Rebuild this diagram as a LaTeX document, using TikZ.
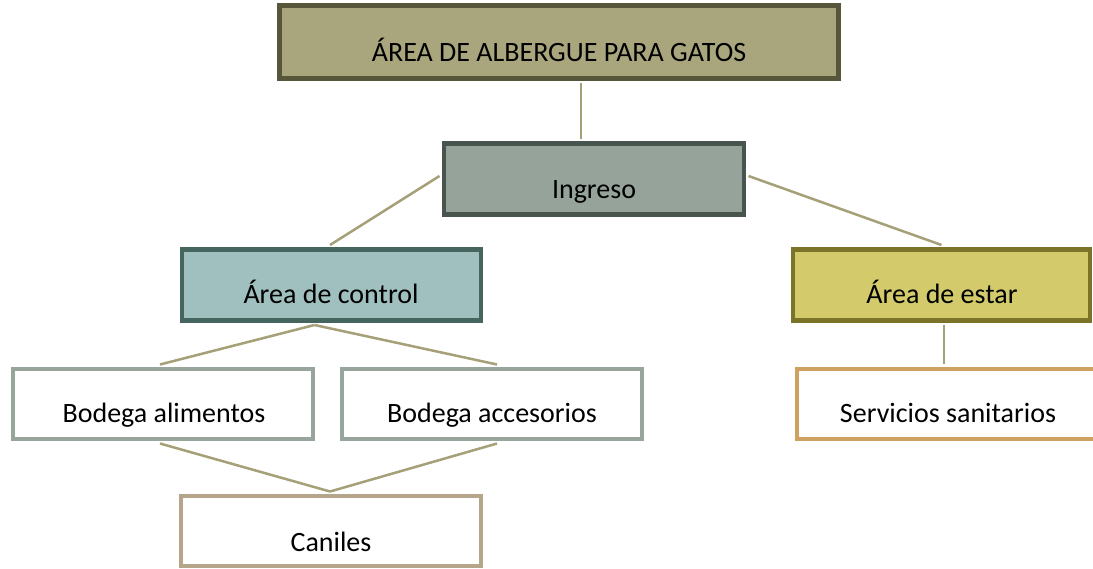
\documentclass[tikz,border=0pt]{standalone}
\usepackage{fontspec}
\setmainfont{Carlito}
\definecolor{topfill}{HTML}{A9A67E}
\definecolor{topdraw}{HTML}{58563A}
\definecolor{ingfill}{HTML}{95A39A}
\definecolor{ingdraw}{HTML}{48554F}
\definecolor{ctlfill}{HTML}{9FC0BE}
\definecolor{ctldraw}{HTML}{46655F}
\definecolor{estfill}{HTML}{D3CB6B}
\definecolor{estdraw}{HTML}{7A7328}
\definecolor{boddraw}{HTML}{98A59C}
\definecolor{serdraw}{HTML}{CFA15E}
\definecolor{candraw}{HTML}{B5A58A}
\definecolor{linkcol}{HTML}{A5A077}
\begin{document}
\begin{tikzpicture}[x=1pt,y=-1pt,
  box/.style={rectangle,line width=4.5pt,inner sep=0pt,minimum height=71pt,minimum width=300pt},
  txt/.style={anchor=base,inner sep=0pt,font=\fontsize{28}{34}\selectfont},
  link/.style={draw=linkcol,line width=2.5pt}]
\clip (0,0) rectangle (1093,569);
\fill[white] (0,0) rectangle (1093,569);
% boxes
\node[box,draw=topdraw,fill=topfill,minimum width=559pt,minimum height=73pt] (top) at (559,42) {};
\node[box,draw=ingdraw,fill=ingfill] (ing) at (594,179) {};
\node[box,draw=ctldraw,fill=ctlfill,minimum width=299pt] (ctl) at (331.5,285) {};
\node[box,draw=estdraw,fill=estfill,minimum width=297pt] (est) at (941.5,285) {};
\node[box,draw=boddraw,fill=white,minimum height=70pt] (boda) at (163,404) {};
\node[box,draw=boddraw,fill=white,minimum height=70pt] (bodb) at (492,404) {};
\node[box,draw=serdraw,fill=white,minimum width=302pt,minimum height=70pt] (ser) at (948,404) {};
\node[box,draw=candraw,fill=white,minimum height=70pt] (can) at (331,531) {};
% texts
\node[txt] (ttop) at (559,62) {ÁREA DE ALBERGUE PARA GATOS};
\node[txt] (ting) at (594,199) {Ingreso};
\node[txt] (tctl) at (331,304) {Área de control};
\node[txt] (test) at (942,304) {Área de estar};
\node[txt] (tboda) at (164,423) {Bodega alimentos};
\node[txt] (tbodb) at (492,423) {Bodega accesorios};
\node[txt] (tser) at (948,423) {Servicios sanitarios};
\node[txt] (tcan) at (331,551) {Caniles};
% connectors
\draw[link] ([xshift=22pt,yshift=-2.25pt]top.south) -- ([xshift=-13pt,yshift=2.25pt]ing.north);
\draw[link] ([xshift=-2.25pt,yshift=3pt]ing.west) -- ([xshift=-1.5pt,yshift=2.25pt]ctl.north);
\draw[link] ([xshift=2.25pt,yshift=3pt]ing.east) -- ([yshift=2.25pt]est.north);
\draw[link] ([xshift=-17pt,yshift=-2.25pt]ctl.south) -- ([xshift=-3pt,yshift=2.25pt]boda.north);
\draw[link] ([xshift=-17pt,yshift=-2.25pt]ctl.south) -- ([xshift=5pt,yshift=2.25pt]bodb.north);
\draw[link] ([xshift=2.5pt,yshift=-2.25pt]est.south) -- ([xshift=-4pt,yshift=2.25pt]ser.north);
\draw[link] ([xshift=-3pt,yshift=-2.25pt]boda.south) -- ([xshift=-1pt,yshift=2.25pt]can.north);
\draw[link] ([xshift=5pt,yshift=-2.25pt]bodb.south) -- ([xshift=-1pt,yshift=2.25pt]can.north);
\end{tikzpicture}
\end{document}
